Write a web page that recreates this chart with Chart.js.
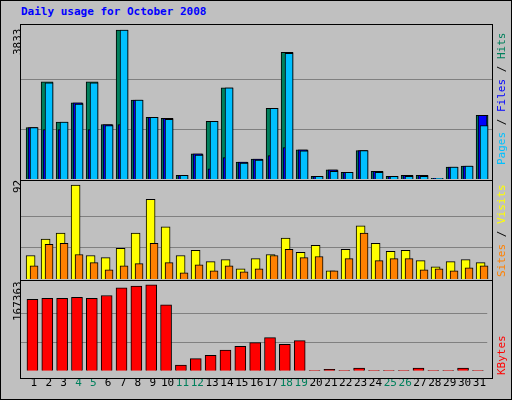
<!DOCTYPE html>
<html>
<head>
<meta charset="utf-8">
<script src="https://cdn.jsdelivr.net/npm/chart.js@4/dist/chart.umd.min.js"></script>
<style>
  body { margin: 0; background: #fff; }
  #wrap { position: relative; width: 510px; height: 398px; background: #C0C0C0; border: 1px solid #000; font-family: "DejaVu Sans Mono", monospace; }
  .panel { position: absolute; left: 20px; width: 471px; }
  .frame { position: absolute; left: 19px; width: 471px; border: 1px solid #000; pointer-events: none; }
  .vl { position: absolute; transform-origin: left top; transform: rotate(-90deg); white-space: nowrap; font-size: 11px; }
  #title { position: absolute; left: 20px; top: 4px; color: #0000ff; font-weight: bold; font-size: 11px; }
</style>
</head>
<body>
<div id="wrap">
  <div id="title">Daily usage for October 2008</div>
  <div class="panel" style="top:25px;height:153px"><canvas id="c1"></canvas></div>
  <div class="panel" style="top:181px;height:97px"><canvas id="c2"></canvas></div>
  <div class="panel" style="top:281px;height:114px"><canvas id="c3"></canvas></div>
  <div class="frame" style="top:23px;height:155px"></div>
  <div class="frame" style="top:179px;height:99px"></div>
  <div class="frame" style="top:279px;height:97px"></div>
  <div class="vl" style="left:10px;top:54px">3833</div>
  <div class="vl" style="left:10px;top:192px">92</div>
  <div class="vl" style="left:10px;top:320px">167363</div>
  <div class="vl" style="left:494px;top:164px"><span style="color:#00c0ff">Pages</span> / <span style="color:#0000ff">Files</span> / <span style="color:#00805c">Hits</span></div>
  <div class="vl" style="left:494px;top:276px"><span style="color:#ff8000">Sites</span> / <span style="color:#ffff00">Visits</span></div>
  <div class="vl" style="left:494px;top:374px"><span style="color:#ff0000">KBytes</span></div>
</div>
<script>
// Daily values
const days = Array.from({ length: 31 }, (_, i) => i + 1);
const weekendDays = [4, 5, 11, 12, 18, 19, 25, 26];
const hits = [1324, 2500, 1463, 1960, 2500, 1402, 3833, 2030, 1585, 1559, 96, 645, 1481, 2343, 436, 514, 1821, 3258, 749, 70, 235, 174, 732, 200, 70, 96, 96, 17, 305, 331, 1638];
const files = [1324, 1272, 1272, 1960, 1272, 1402, 1402, 2030, 1585, 1559, 96, 645, 261, 549, 436, 514, 601, 810, 749, 70, 235, 174, 732, 200, 70, 96, 96, 17, 305, 331, 1638];
const pages = [1324, 2474, 1463, 1925, 2474, 1376, 3833, 2030, 1585, 1533, 96, 618, 1481, 2343, 409, 488, 1821, 3232, 723, 70, 200, 174, 732, 174, 70, 70, 70, 17, 305, 331, 1376];
const visits = [23, 39, 45, 92, 23, 21, 30, 45, 78, 51, 23, 28, 17, 19, 10, 20, 24, 40, 26, 33, 8, 29, 52, 35, 27, 28, 18, 12, 17, 19, 16];
const sites = [13, 34, 35, 24, 16, 9, 13, 15, 35, 16, 6, 14, 8, 13, 7, 10, 23, 29, 21, 22, 8, 20, 45, 18, 20, 20, 9, 10, 8, 11, 13];
const kbytes = [139300, 141100, 141100, 142900, 141100, 146600, 161300, 164900, 167363, 128300, 11000, 23800, 29900, 40300, 47600, 54900, 64700, 51300, 58600, 500, 3000, 500, 5500, 500, 500, 500, 5500, 500, 500, 5500, 500];

const xMin = 0.13, xMax = 31.53;

function pts(values, shift) {
    return values.map((v, i) => ({ x: days[i] + shift, y: v }));
}

// order: higher numbers are drawn first (behind)
function bar(values, shift, color, width, order) {
    return {
        data: pts(values, shift),
        backgroundColor: color,
        borderColor: '#000',
        borderWidth: 1,
        borderSkipped: 'bottom',
        barThickness: width,
        grouped: false,
        order: order
    };
}

function panel(id, datasets, max, step, showX) {
    new Chart(document.getElementById(id), {
        type: 'bar',
        data: { datasets: datasets },
        options: {
            responsive: true,
            maintainAspectRatio: false,
            animation: false,
            layout: { padding: 0 },
            plugins: { legend: { display: false }, tooltip: { enabled: false } },
            scales: {
                x: {
                    type: 'linear', min: xMin, max: xMax, offset: false,
                    display: showX,
                    grid: { display: false, drawTicks: false },
                    border: { display: false },
                    afterBuildTicks: axis => { axis.ticks = days.map(d => ({ value: d })); },
                    ticks: {
                        autoSkip: false, maxRotation: 0, padding: 6,
                        font: { family: 'DejaVu Sans Mono', size: 11 },
                        color: ctx => weekendDays.includes(ctx.tick.value) ? '#00805c' : '#000'
                    }
                },
                y: {
                    min: 0, max: max,
                    afterBuildTicks: axis => { axis.ticks = [{ value: step }, { value: step * 2 }]; },
                    ticks: { display: false },
                    grid: { color: '#808080', lineWidth: 1, drawTicks: false },
                    border: { display: false }
                }
            }
        }
    });
}

panel('c1', [
    bar(hits, -0.13, '#00805c', 12, 3),
    bar(files, -0.1, '#0000ff', 9, 2),
    bar(pages, 0, '#00c0ff', 8, 1)
], 3936, 3833 / 3, false);

panel('c2', [
    bar(visits, -0.23, '#ffff00', 9, 2),
    bar(sites, 0, '#ff8000', 8, 1)
], 95, 92 / 3, false);

panel('c3', [
    bar(kbytes, -0.1, '#ff0000', 11, 1)
], 172820, 167363 / 3, true);
</script>
</body>
</html>
